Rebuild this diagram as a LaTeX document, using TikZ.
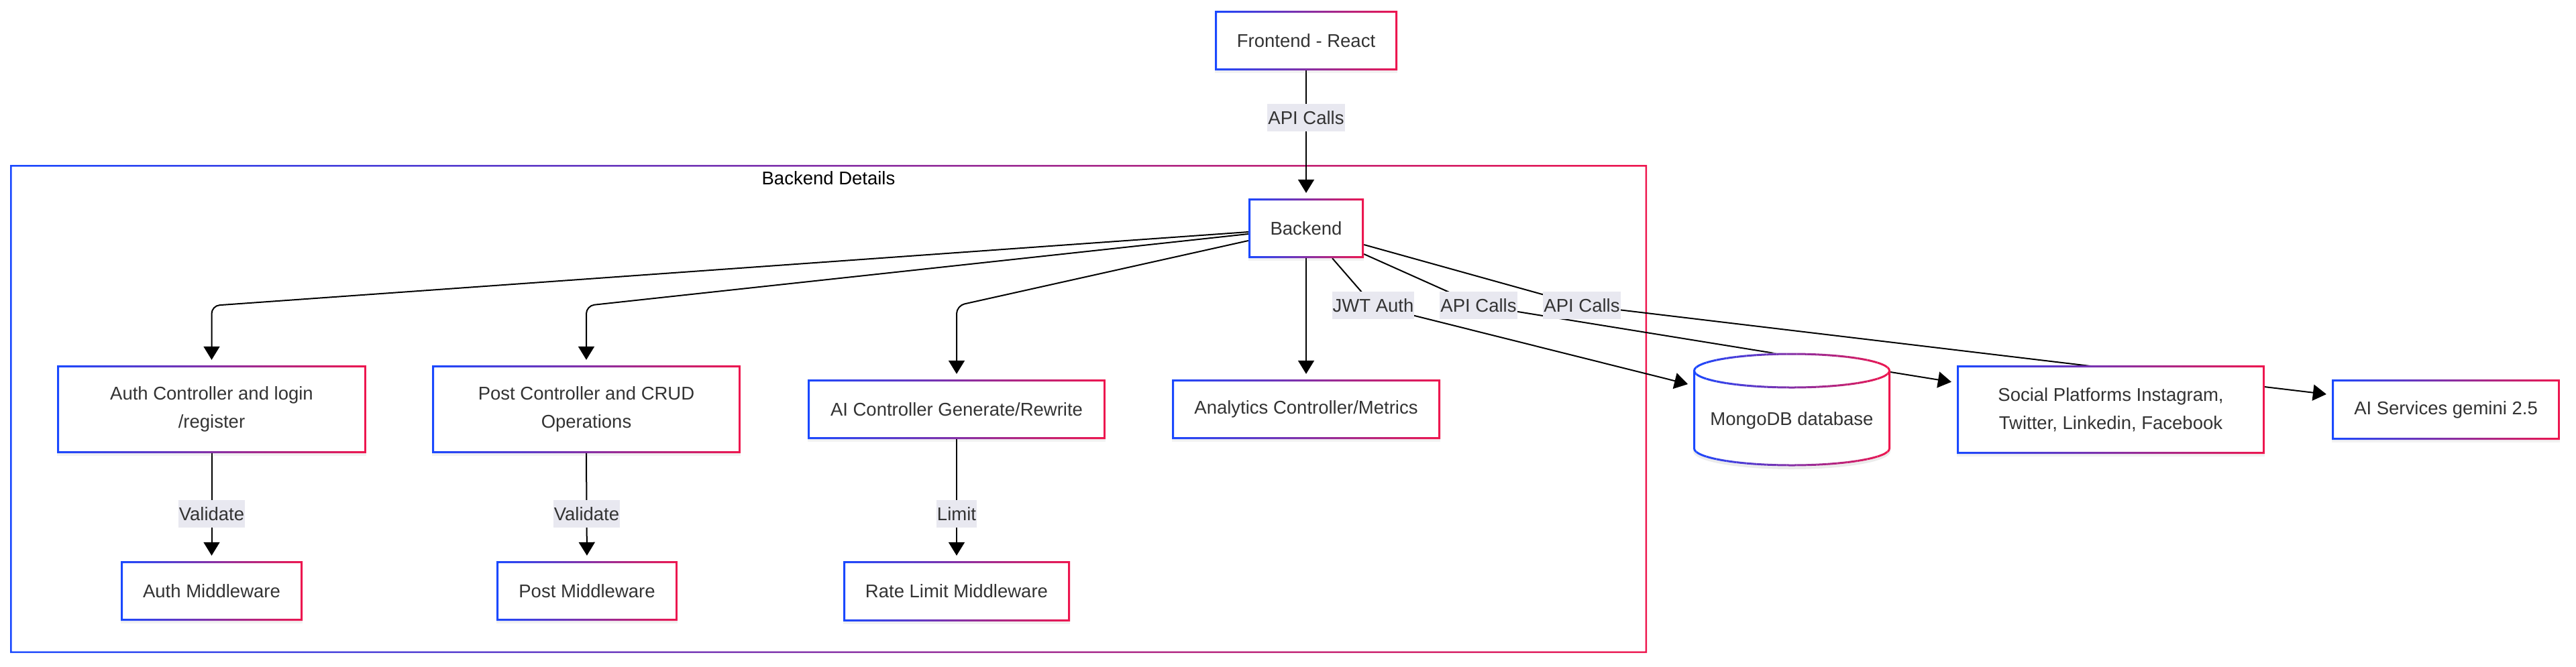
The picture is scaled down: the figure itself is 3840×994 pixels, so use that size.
\documentclass[tikz,border=0pt]{standalone}
\usepackage{fontspec}
\setmainfont{Liberation Sans}
\usetikzlibrary{arrows.meta,shadows,calc}
\definecolor{cb}{RGB}{25,72,255}
\definecolor{cr}{RGB}{238,22,78}
\definecolor{txt}{RGB}{51,51,51}
\definecolor{lblbg}{RGB}{232,232,240}
\pgfdeclarelayer{bg}
\pgfdeclarelayer{edges}
\pgfsetlayers{bg,edges,main}
\tikzset{
  nfont/.style={font=\fontsize{27.5pt}{42pt}\selectfont},
  gbox/.style={fill=white, inner sep=0pt, text=txt, align=center, nfont,
    drop shadow={shadow xshift=0pt, shadow yshift=-4pt, opacity=0.10},
    path picture={\shade[left color=cb,right color=cr,even odd rule]
      (path picture bounding box.south west) rectangle (path picture bounding box.north east)
      ([shift={(3pt,3pt)}]path picture bounding box.south west) rectangle ([shift={(-3pt,-3pt)}]path picture bounding box.north east);}},
  sz/.style 2 args={minimum width=#1pt, minimum height=#2pt},
  elabel/.style={sharp corners, fill=lblbg, text=txt, inner xsep=1pt, inner ysep=0pt, minimum height=41pt, nfont},
  conn/.style={line width=2pt, -{Triangle[length=20pt,width=24pt]}, shorten >=8pt, rounded corners=12pt},
}
\begin{document}
\begin{tikzpicture}[x=1pt,y=-1pt]
\useasboundingbox (0,0) rectangle (3840,994);

% cluster
\begin{pgfonlayer}{bg}
\fill[white] (0,0) rectangle (3840,994);
\shade[left color=cb,right color=cr,even odd rule] (15,246) rectangle (2455,974) (17.5,248.5) rectangle (2452.5,971.5);
\end{pgfonlayer}
\node[text=black, nfont] (ctitle) at (1235,266) {Backend Details};

% nodes
\node[gbox, sz={272}{89}] (frontend) at (1947,60.5) {Frontend - React};
\node[gbox, sz={172}{89}] (backend) at (1947,340.5) {Backend};
\node[gbox, sz={461}{131}] (auth) at (315.5,610.5) {Auth Controller and login\\/register};
\node[gbox, sz={460}{131}] (post) at (874,610.5) {Post Controller and CRUD\\Operations};
\node[gbox, sz={444}{89}] (ai) at (1426,610.5) {AI Controller Generate/Rewrite};
\node[gbox, sz={400}{89}] (analytics) at (1947,610.5) {Analytics Controller/Metrics};
\node[gbox, sz={271}{89}] (authmw) at (315.5,881.5) {Auth Middleware};
\node[gbox, sz={270}{89}] (postmw) at (875,881.5) {Post Middleware};
\node[gbox, sz={338}{90}] (rate) at (1426,882) {Rate Limit Middleware};
\node[gbox, sz={459}{132}] (social) at (3146.5,611) {Social Platforms Instagram,\\Twitter, Linkedin, Facebook};
\node[gbox, sz={340}{90}] (aiserv) at (3646,611) {AI Services gemini 2.5};

% MongoDB cylinder
\fill[black,opacity=0.08] (2524,556.5) -- (2524,673.5) arc[start angle=180,end angle=360,x radius=147pt,y radius=26.5pt] -- (2818,556.5) arc[start angle=0,end angle=180,x radius=147pt,y radius=26.5pt] -- cycle;
\fill[white] (2524,552.5) -- (2524,669.5) arc[start angle=180,end angle=360,x radius=147pt,y radius=26.5pt] -- (2818,552.5) arc[start angle=0,end angle=180,x radius=147pt,y radius=26.5pt] -- cycle;
\foreach \i in {0,...,39}{
  \pgfmathsetmacro\pc{\i*100/39}
  \begin{scope}
    \clip (2521+\i*7.5,515) rectangle (2521+\i*7.5+7.6,705);
    \draw[line width=3pt, draw=cr!\pc!cb] (2671,553) ellipse [x radius=145.5pt, y radius=25pt];
    \draw[line width=3pt, draw=cr!\pc!cb] (2525.5,553) -- (2525.5,669) arc[start angle=180,end angle=360,x radius=145.5pt,y radius=25pt] -- (2816.5,553);
  \end{scope}}
\node[inner sep=0pt, minimum width=294pt, minimum height=170pt] (mongo) at (2671,611) {};
\node[text=txt, nfont] (mongotxt) at (2671,627) {MongoDB database};

% edges
\begin{pgfonlayer}{edges}
\draw[conn] (frontend.south) -- (1947,175.5) node[elabel]{API Calls} -- (backend.north);
\draw[conn] ([yshift=-5.5pt]backend.west) -- (315.5,456) -- (auth.north);
\draw[conn] ([yshift=-8.5pt]backend.west) -- (874,456) -- (post.north);
\draw[conn] ([yshift=-18.5pt]backend.west) -- (1426,456) -- (ai.north);
\draw[conn] (backend.south) -- (analytics.north);
\draw[conn] ([xshift=39pt]backend.south) -- (2047,455.5) node[elabel]{JWT Auth} -- ([yshift=36pt]mongo.west);
\draw[conn] ([yshift=-38.5pt]backend.east) -- (2204,455.5) node[elabel]{API Calls} -- ([yshift=40pt]social.west);
\draw[conn] ([yshift=-24.5pt]backend.east) -- (2358,455.5) node[elabel]{API Calls} -- ([yshift=22pt]aiserv.west);
\draw[conn] (auth.south) -- (315.5,766.5) node[elabel]{Validate} -- (authmw.north);
\draw[conn] (post.south) -- (874.5,766.5) node[elabel]{Validate} -- (postmw.north);
\draw[conn] (ai.south) -- (1426,766.5) node[elabel]{Limit} -- (rate.north);
\end{pgfonlayer}
\end{tikzpicture}
\end{document}
